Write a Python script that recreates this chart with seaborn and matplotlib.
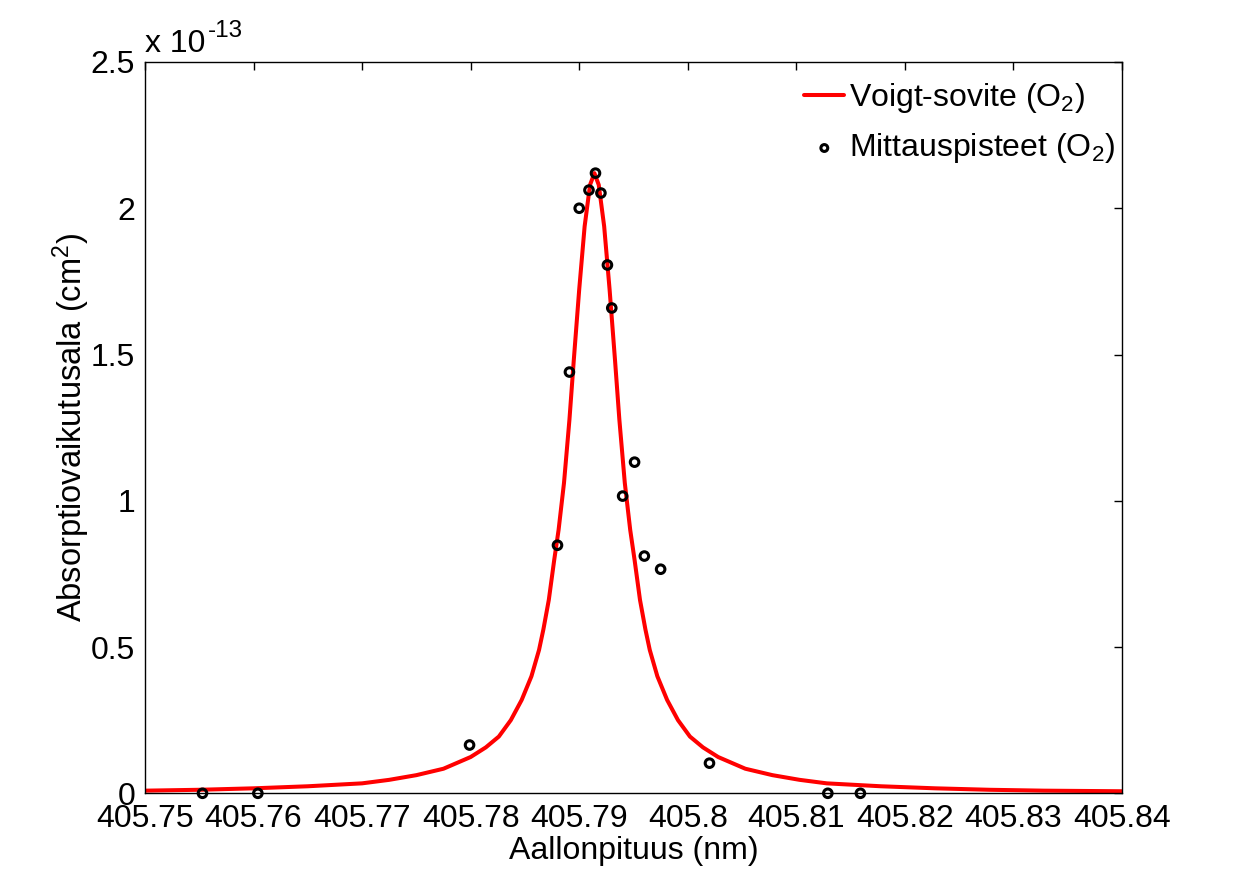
import numpy as np
import pandas as pd
import matplotlib
matplotlib.use("Agg")
import matplotlib.pyplot as plt
import seaborn as sns

# Mittauspisteet (aallonpituus nm, absorptiovaikutusala / 1e-13 cm^2)
meas_x = [405.7553, 405.7604, 405.7799, 405.7880, 405.7891, 405.7900, 405.7909,
          405.7915, 405.7920, 405.7926, 405.7930, 405.7940, 405.7951, 405.7960,
          405.7975, 405.8020, 405.8129, 405.8159]
meas_y = [0.0, 0.0, 0.165, 0.848, 1.440, 2.000, 2.062,
          2.120, 2.052, 1.806, 1.659, 1.016, 1.132, 0.811,
          0.766, 0.103, 0.0, 0.0]

# Voigt-sovite luettuna kuvasta
fit_x = [405.7500, 405.7550, 405.7600, 405.7650, 405.7700, 405.7725, 405.7750,
         405.7775, 405.7800, 405.7814, 405.7826, 405.7837, 405.7847, 405.7856,
         405.7863, 405.7867, 405.7872, 405.7877, 405.7881, 405.7886, 405.7891,
         405.7895, 405.7900, 405.7905, 405.7910, 405.7914,
         405.7918, 405.7923, 405.7928, 405.7933, 405.7937, 405.7942, 405.7947,
         405.7951, 405.7956, 405.7961, 405.7965, 405.7972, 405.7981, 405.7991,
         405.8002, 405.8014, 405.8028, 405.8053, 405.8078, 405.8103, 405.8128,
         405.8178, 405.8228, 405.8278, 405.8328, 405.8400]
fit_y = [0.009, 0.012, 0.017, 0.024, 0.034, 0.046, 0.062,
         0.084, 0.124, 0.157, 0.194, 0.250, 0.319, 0.400,
         0.490, 0.560, 0.661, 0.798, 0.900, 1.061, 1.277,
         1.480, 1.722, 1.938, 2.080, 2.120,
         2.080, 1.938, 1.722, 1.480, 1.277, 1.061, 0.900,
         0.798, 0.661, 0.560, 0.490, 0.400, 0.319, 0.250,
         0.194, 0.157, 0.124, 0.084, 0.062, 0.046, 0.034,
         0.024, 0.017, 0.012, 0.009, 0.007]

x_ticks = [405.75, 405.76, 405.77, 405.78, 405.79, 405.80, 405.81, 405.82, 405.83, 405.84]
y_ticks = [0, 0.5, 1, 1.5, 2, 2.5]

sns.set_style("white")
plt.rcParams['font.family'] = ['Liberation Sans', 'DejaVu Sans']
plt.rcParams['mathtext.fontset'] = 'custom'
plt.rcParams['mathtext.rm'] = 'Liberation Sans'
plt.rcParams['mathtext.it'] = 'Liberation Sans:italic'
plt.rcParams['mathtext.bf'] = 'Liberation Sans:bold'
plt.rcParams['text.color'] = 'black'
plt.rcParams['axes.labelcolor'] = 'black'

fig = plt.figure(figsize=(12.42, 8.73), dpi=100)
ax = fig.add_axes([0.1167, 0.0913, 0.7867, 0.8377])

fit = pd.DataFrame({'x': fit_x, 'y': fit_y})
meas = pd.DataFrame({'x': meas_x, 'y': meas_y})

sns.lineplot(data=fit, x='x', y='y', ax=ax, color='#ff0000', linewidth=2.9,
             label='Voigt-sovite (O$_2$)', sort=False, solid_joinstyle='round')
sns.scatterplot(data=meas, x='x', y='y', ax=ax, s=38, facecolor='none',
                edgecolor='black', linewidth=2.2, label='Mittauspisteet (O$_2$)',
                zorder=3, clip_on=False)

ax.set_xlim(405.75, 405.84)
ax.set_ylim(0, 2.5)
ax.set_xticks(x_ticks)
ax.set_yticks(y_ticks)
ax.set_xticklabels([f'{v:g}' for v in x_ticks])
ax.set_yticklabels([f'{v:g}' for v in y_ticks])
ax.tick_params(direction='in', length=6, width=1, top=True, right=True,
               labelsize=23, colors='black')
ax.tick_params(axis='x', pad=8)
ax.tick_params(axis='y', pad=7)
for s in ax.spines.values():
    s.set_linewidth(1)
    s.set_color('black')

ax.set_xlabel('Aallonpituus (nm)', fontsize=23, labelpad=1)
ax.set_ylabel('Absorptiovaikutusala (cm$^2$)', fontsize=23.5)
ax.yaxis.set_label_coords(-0.054, 0.5)
ax.text(0.0, 1.004, 'x 10', transform=ax.transAxes, fontsize=23,
        ha='left', va='bottom')
ax.text(0.064, 1.027, '-13', transform=ax.transAxes, fontsize=17.5,
        ha='left', va='bottom')

ax.legend(loc='upper right', bbox_to_anchor=(1.016, 1.004), frameon=False,
          fontsize=23, handlelength=1.25, handletextpad=0.15, labelspacing=0.5,
          borderaxespad=0.3, markerscale=0.8)

fig.savefig('out.png', dpi=100, facecolor='white')
